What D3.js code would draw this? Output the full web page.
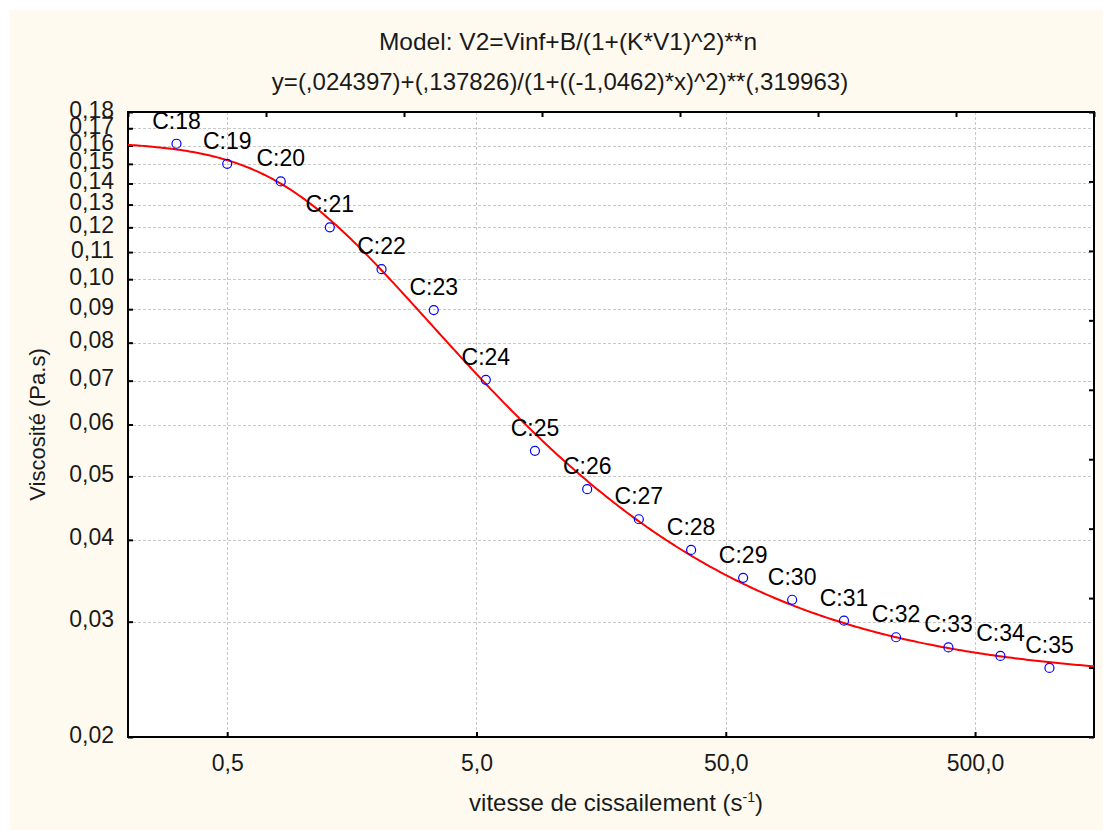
<!DOCTYPE html>
<html>
<head>
<meta charset="utf-8">
<script src="https://cdn.jsdelivr.net/npm/d3@7"></script>
<style>
  html, body { margin: 0; padding: 0; background: #ffffff; }
  svg { display: block; font-family: "Liberation Sans", Arial, sans-serif; }
</style>
</head>
<body>
<svg id="chart" width="1103" height="830"></svg>
<script>
// données (cas C:18 à C:35)
const labels = ["C:18","C:19","C:20","C:21","C:22","C:23","C:24","C:25","C:26",
                "C:27","C:28","C:29","C:30","C:31","C:32","C:33","C:34","C:35"];
const shearRate = [0.313, 0.5, 0.82, 1.29, 2.08, 3.37, 5.45, 8.58, 13.9,
                   22.4, 36.3, 58.7, 92.3, 149, 241, 391, 632, 994];
const viscosity = [0.161, 0.150, 0.141, 0.120, 0.1036, 0.0897, 0.0702, 0.0547, 0.0478,
                   0.0430, 0.0386, 0.0350, 0.0324, 0.0301, 0.0284, 0.0274, 0.0266, 0.0255];

// paramètres du modèle ajusté
const vInf = 0.024397, bParam = 0.137826, kParam = -1.0462, nParam = 0.319963;

const xTicks = [0.5, 5, 50, 500];
const yTicks = [0.02, 0.03, 0.04, 0.05, 0.06, 0.07, 0.08, 0.09, 0.10,
                0.11, 0.12, 0.13, 0.14, 0.15, 0.16, 0.17, 0.18];

const svg = d3.select("#chart");
const W = 1103, H = 830;
const plot = { left: 128, top: 112, right: 1094, bottom: 737 };

// fond crème
svg.append("rect")
  .attr("x", 10).attr("y", 10)
  .attr("width", W - 10).attr("height", H - 10)
  .attr("fill", "#fffaf0");

const x = d3.scaleLog().domain([0.2, 1500]).range([plot.left, plot.right]);
const y = d3.scaleLog().domain([0.02, 0.18]).range([plot.bottom, plot.top]);

// zone du graphique
svg.append("rect")
  .attr("x", plot.left).attr("y", plot.top)
  .attr("width", plot.right - plot.left).attr("height", plot.bottom - plot.top)
  .attr("fill", "#ffffff");

// grille pointillée
const grid = svg.append("g")
  .attr("stroke", "#c8c8c8").attr("stroke-width", 1).attr("stroke-dasharray", "3,2");
grid.selectAll("line.h").data(yTicks.slice(1)).enter().append("line")
  .attr("x1", plot.left).attr("x2", plot.right)
  .attr("y1", d => Math.round(y(d)) + 0.5).attr("y2", d => Math.round(y(d)) + 0.5);
grid.selectAll("line.v").data(xTicks).enter().append("line")
  .attr("y1", plot.top).attr("y2", plot.bottom)
  .attr("x1", d => Math.round(x(d)) + 0.5).attr("x2", d => Math.round(x(d)) + 0.5);

// axes (graduations vers l'intérieur)
const fmtY = d => d3.format(".2f")(d).replace(".", ",");
const fmtX = d => d3.format(".1f")(d).replace(".", ",");

const yAxis = svg.append("g")
  .attr("transform", `translate(${plot.left},0)`)
  .call(d3.axisLeft(y).tickValues(yTicks).tickFormat(fmtY).tickSizeInner(-5).tickSizeOuter(0).tickPadding(14));
const xAxis = svg.append("g")
  .attr("transform", `translate(0,${plot.bottom})`)
  .call(d3.axisBottom(x).tickValues(xTicks).tickFormat(fmtX).tickSizeInner(-5).tickSizeOuter(0).tickPadding(18));

// axes secondaires (haut et droite)
const xTop = d3.scaleLinear().domain([0, 7]).range([plot.left, plot.right]);
const yRight = d3.scaleLinear().domain([0, 9]).range([plot.bottom, plot.top]);
svg.append("g").attr("transform", `translate(0,${plot.top})`)
  .call(d3.axisTop(xTop).ticks(7).tickSizeInner(-5).tickSizeOuter(0).tickFormat(""));
svg.append("g").attr("transform", `translate(${plot.right},0)`)
  .call(d3.axisRight(yRight).ticks(9).tickSizeInner(-5).tickSizeOuter(0).tickFormat(""));

svg.selectAll(".domain").remove();
svg.selectAll(".tick line").attr("stroke", "#000").attr("stroke-width", 2);
svg.selectAll(".tick text")
  .attr("font-family", "Liberation Sans, Arial, sans-serif")
  .attr("font-size", 23).attr("fill", "#1a1a1a");
yAxis.selectAll(".tick text").attr("dy", "0.22em");

// cadre
svg.append("rect")
  .attr("x", plot.left).attr("y", plot.top)
  .attr("width", plot.right - plot.left).attr("height", plot.bottom - plot.top)
  .attr("fill", "none").attr("stroke", "#000").attr("stroke-width", 2);

// courbe du modèle
const model = v => vInf + bParam / Math.pow(1 + Math.pow(kParam * v, 2), nParam);
const curveX = d3.range(0, 401).map(i => x.invert(plot.left + i * (plot.right - plot.left) / 400));
const line = d3.line().x(d => x(d)).y(d => y(model(d)));
svg.append("path")
  .datum(curveX)
  .attr("d", line)
  .attr("fill", "none").attr("stroke", "#ff0000").attr("stroke-width", 2);

// points et étiquettes
const pts = labels.map((l, i) => ({ label: l, x: shearRate[i], y: viscosity[i] }));
svg.selectAll("circle.pt").data(pts).enter().append("circle")
  .attr("cx", d => x(d.x)).attr("cy", d => y(d.y)).attr("r", 4.5)
  .attr("fill", "none").attr("stroke", "#0000ff").attr("stroke-width", 1.2);
svg.selectAll("text.lbl").data(pts).enter().append("text")
  .attr("x", d => x(d.x)).attr("y", d => y(d.y) - 15)
  .attr("text-anchor", "middle").attr("font-size", 23).attr("fill", "#000")
  .text(d => d.label);

// titres
svg.append("text").attr("x", 568).attr("y", 50).attr("text-anchor", "middle")
  .attr("font-size", 24.5).attr("fill", "#1a1a1a")
  .text("Model: V2=Vinf+B/(1+(K*V1)^2)**n");
svg.append("text").attr("x", 560).attr("y", 90).attr("text-anchor", "middle")
  .attr("font-size", 24).attr("fill", "#1a1a1a")
  .text("y=(,024397)+(,137826)/(1+((-1,0462)*x)^2)**(,319963)");

svg.append("text")
  .attr("transform", `translate(45,${(plot.top + plot.bottom) / 2}) rotate(-90)`)
  .attr("text-anchor", "middle").attr("font-size", 22).attr("fill", "#1a1a1a")
  .text("Viscosité (Pa.s)");

const xl = svg.append("text").attr("x", 616).attr("y", 811)
  .attr("text-anchor", "middle").attr("font-size", 24).attr("fill", "#1a1a1a");
xl.append("tspan").text("vitesse de cissailement (s");
xl.append("tspan").attr("font-size", 14).attr("dy", -9).text("-1");
xl.append("tspan").attr("dy", 9).text(")");
</script>
</body>
</html>
